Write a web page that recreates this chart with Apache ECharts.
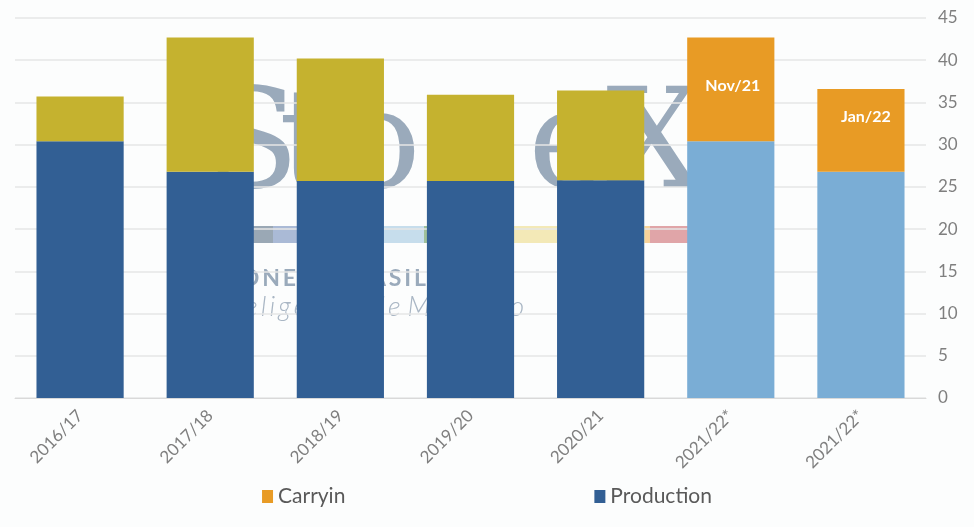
<!DOCTYPE html>
<html>
<head>
<meta charset="utf-8">
<script src="https://cdn.jsdelivr.net/npm/echarts@6/dist/echarts.min.js"></script>
<style>
html, body { margin: 0; padding: 0; background: #fcfdfd; }
#chart { width: 974px; height: 527px; }
</style>
</head>
<body>
<div id="chart"></div>
<script>
var categories = ['2016/17', '2017/18', '2018/19', '2019/20', '2020/21', '2021/22*', '2021/22*'];
var production = [30.4, 26.8, 25.7, 25.7, 25.8, 30.4, 26.8];
var carryin = [5.3, 15.9, 14.5, 10.2, 10.6, 12.3, 9.8];
var carryinLabels = ['', '', '', '', '', 'Nov/21', 'Jan/22'];
var forecast = [false, false, false, false, false, true, true];

var chart = echarts.init(document.getElementById('chart'));

var font = 'Lato, "Open Sans", sans-serif';

// spread letters out a bit (watermark text is letter-spaced)
function spaced(s) {
    return s.split('').join('\u2009');
}

var prodData = production.map(function (v, i) {
    return {value: v, itemStyle: {color: forecast[i] ? '#7aadd5' : '#325f94'}};
});
var carryData = carryin.map(function (v, i) {
    var d = {value: v, itemStyle: {color: forecast[i] ? '#e89b25' : '#c5b22f'}};
    if (carryinLabels[i]) {
        d.label = {
            show: true,
            formatter: carryinLabels[i],
            position: 'inside',
            offset: i === 5 ? [2, -4] : [5, -13]
        };
    }
    return d;
});

// watermark logo, sits behind the bars
var wmFill = '#9aaabb';
var logoLetters = [['S', 205], ['t', 279], ['o', 338], ['n', 425], ['e', 528], ['X', 606]];
var watermark = logoLetters.map(function (l) {
    return {type: 'text', z: -10, left: l[1], top: 82,
            style: {text: l[0], fontFamily: 'DejaVu Serif', fontSize: 138, fill: wmFill}};
});
var band = [
    [246, 27, '#9aa8b5'], [273, 60, '#aabad6'], [333, 91, '#c6ddec'], [424, 4, '#9fc09a'],
    [428, 217, '#f3e9b7'], [645, 5, '#f8d39a'], [650, 50, '#e0a5a8']
];
band.forEach(function (b) {
    watermark.push({type: 'rect', z: -10, shape: {x: b[0], y: 226, width: b[1], height: 17},
                    style: {fill: b[2]}});
});
watermark.push(
    {type: 'text', z: -10, right: 974 - 296, top: 267,
     style: {text: spaced('STONE'), fontFamily: 'Lato', fontWeight: 'bold', fontSize: 23, fill: wmFill}},
    {type: 'text', z: -10, right: 974 - 426, top: 267,
     style: {text: spaced('BRASIL'), fontFamily: 'Lato', fontWeight: 'bold', fontSize: 23, fill: wmFill}},
    {type: 'text', z: -10, right: 974 - 524, top: 294,
     style: {text: 'Inteligência de Mercado'.split(' ').map(spaced).join(' '),
             fontFamily: 'Lato', fontStyle: 'italic', fontWeight: 300, fontSize: 27, fill: '#a9b6c4'}}
);

var option = {
    backgroundColor: '#fcfdfd',
    textStyle: {fontFamily: font},
    grid: {left: 15, right: 48, top: 18, bottom: 129},
    legend: {
        data: ['Carryin', 'Production'],
        bottom: 15,
        left: 'center',
        itemGap: 249,
        itemWidth: 11,
        itemHeight: 13,
        icon: 'rect',
        textStyle: {fontSize: 21, color: '#595959', fontFamily: font}
    },
    graphic: watermark,
    xAxis: {
        type: 'category',
        data: categories,
        axisTick: {show: false},
        axisLine: {lineStyle: {color: '#d9d9d9', width: 1}},
        axisLabel: {rotate: 45, fontSize: 17, color: '#7f7f7f', margin: 15, fontFamily: font}
    },
    yAxis: {
        type: 'value',
        position: 'right',
        min: 0,
        max: 45,
        interval: 5,
        axisLine: {show: false},
        axisTick: {show: false},
        splitLine: {lineStyle: {color: '#e6e6e6', width: 1.5}},
        axisLabel: {fontSize: 17, color: '#7f7f7f', margin: 12, fontFamily: font}
    },
    series: [
        {
            name: 'Production',
            type: 'bar',
            stack: 'total',
            barWidth: '67%',
            itemStyle: {color: '#325f94'},
            data: prodData
        },
        {
            name: 'Carryin',
            type: 'bar',
            stack: 'total',
            itemStyle: {color: '#e89b25'},
            label: {show: false, color: '#ffffff', fontWeight: 'bold', fontSize: 16, fontFamily: font},
            data: carryData
        }
    ]
};

chart.setOption(option);
</script>
</body>
</html>
